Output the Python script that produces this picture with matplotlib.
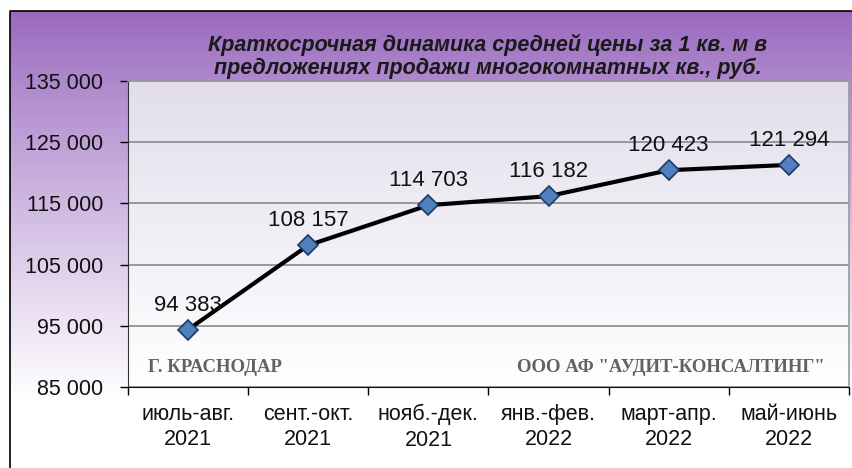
import numpy as np
import matplotlib
matplotlib.use('Agg')
import matplotlib.pyplot as plt

periods = ['июль-авг.\n2021', 'сент.-окт.\n2021', 'нояб.-дек.\n2021',
           'янв.-фев.\n2022', 'март-апр.\n2022', 'май-июнь\n2022']
prices = [94383, 108157, 114703, 116182, 120423, 121294]
y_ticks = [85000, 95000, 105000, 115000, 125000, 135000]
title = 'Краткосрочная динамика средней цены за 1 кв. м в\nпредложениях продажи многокомнатных кв., руб.'

W, H = 853, 468
fig = plt.figure(figsize=(W / 100, H / 100), dpi=100)
fig.patch.set_facecolor('white')

# purple -> white background of the chart area
bg = fig.add_axes([10 / W, 0, 1 - 10 / W, 1 - 11 / H])
bg.set_axis_off()
t = np.linspace(0, 1, 300)
top = np.array([152, 104, 190]) / 255
bot = np.array([255, 255, 255]) / 255
k = np.clip(t / 0.85, 0, 1) ** 0.9
grad = top[None, :] * (1 - k[:, None]) + bot[None, :] * k[:, None]
bg.imshow(grad[:, None, :], aspect='auto', extent=[0, 1, 0, 1])
bg.set_xlim(0, 1)
bg.set_ylim(0, 1)
bg.plot([0, 0, 1.01], [-0.01, 1, 1], color='black', lw=1.2, clip_on=False)

ax = fig.add_axes([128 / W, 1 - 387 / H, (849 - 128) / W, (387 - 81) / H])
ax.set_xlim(-0.5, len(prices) - 0.5)
ax.set_ylim(85000, 135000)

# plot area gradient
pa_top = np.array([226, 222, 236]) / 255
pa_bot = np.array([255, 255, 255]) / 255
s = np.linspace(0, 1, 200)
pg = pa_top[None, :] * (1 - s[:, None]) + pa_bot[None, :] * s[:, None]
ax.imshow(pg[:, None, :], aspect='auto', extent=[-0.5, len(prices) - 0.5, 85000, 135000],
          zorder=0)

ax.set_yticks(y_ticks)
ax.set_yticklabels([f'{v:,}'.replace(',', ' ') for v in y_ticks])
ax.yaxis.grid(True, color='#8a8a8a', lw=1.2, zorder=1)
ax.set_axisbelow(True)

x = np.arange(len(prices))
ax.set_xticks(np.arange(-0.5, len(prices), 1.0))
ax.set_xticklabels([])
ax.set_xticks(x, minor=True)
ax.set_xticklabels(periods, minor=True)
ax.tick_params(axis='x', which='minor', length=0, pad=12)
ax.tick_params(axis='x', which='major', length=6, width=1, direction='out')
ax.tick_params(axis='y', length=6, width=1, direction='out', pad=12)
for lab in ax.get_xticklabels(minor=True):
    lab.set_fontfamily('Liberation Sans')
    lab.set_fontsize(15.5)
    lab.set_color('#111111')
    lab.set_linespacing(1.3)
for lab in ax.get_yticklabels():
    lab.set_fontfamily('Liberation Sans')
    lab.set_fontsize(15.5)
    lab.set_color('#111111')

for side in ['top', 'right']:
    ax.spines[side].set_color('#9a9a9a')
    ax.spines[side].set_linewidth(1.2)
ax.spines['left'].set_color('#333333')
ax.spines['bottom'].set_color('#111111')

ax.plot(x, prices, color='black', lw=3, zorder=3,
        marker='D', markersize=10, markerfacecolor='#4f81bd',
        markeredgecolor='#1f3864', markeredgewidth=1.2)

for xi, v in zip(x, prices):
    ax.annotate(f'{v:,}'.replace(',', ' '), (xi, v), xytext=(0, 10),
                textcoords='offset points', ha='center', va='bottom',
                fontsize=16, family='Liberation Sans', color='#111111', zorder=4)

fig.text(488 / W, 1 - 56 / H, title, ha='center', va='center', fontsize=15.5,
         fontweight='bold', fontstyle='italic', family='Liberation Sans',
         color='#1a1a1a', linespacing=1.1)

ax.text(20 / (849 - 128), (387 - 367) / (387 - 81), 'Г. КРАСНОДАР',
        transform=ax.transAxes, ha='left', va='center', fontsize=13.5,
        fontweight='bold', family='Liberation Serif', color='#626262')
ax.text((825 - 128) / (849 - 128), (387 - 367) / (387 - 81),
        'ООО АФ "АУДИТ-КОНСАЛТИНГ"',
        transform=ax.transAxes, ha='right', va='center', fontsize=13.5,
        fontweight='bold', family='Liberation Serif', color='#626262')

fig.savefig('out.png', dpi=100)
